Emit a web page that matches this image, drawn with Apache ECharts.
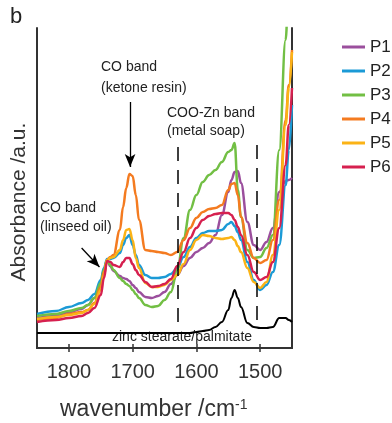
<!DOCTYPE html>
<html>
<head>
<meta charset="utf-8">
<script src="https://cdn.jsdelivr.net/npm/echarts@6/dist/echarts.min.js"></script>
<style>
  html, body { margin: 0; padding: 0; background: #fff; }
  #chart-container { width: 392px; height: 423px; }
</style>
</head>
<body>
<div id="chart-container"></div>
<script>
var dom = document.getElementById("chart-container");
var myChart = echarts.init(dom, null, { renderer: "canvas" });

const font = "Liberation Sans";

// shared wavenumber grid (cm-1), absorbance in arbitrary units
const wavenumber = [1850, 1820, 1800, 1780, 1770, 1760, 1750, 1745, 1740, 1735,
  1730, 1720, 1715, 1710, 1705, 1700, 1695, 1690, 1680, 1670,
  1660, 1650, 1640, 1630, 1620, 1610, 1600, 1590, 1580, 1570,
  1560, 1550, 1545, 1540, 1535, 1530, 1520, 1510, 1500, 1490,
  1480, 1470, 1460, 1455, 1450];

const p1 = [30, 32, 36, 39, 43, 50, 64, 78, 88, 82,
  77, 72, 70, 69, 67, 63, 60, 56, 51, 50,
  52, 56, 64, 73, 82, 90, 96, 100, 105, 113,
  133, 156, 168, 176, 177, 165, 126, 103, 98, 106,
  120, 156, 167, 168, 170];
const p2 = [34, 37, 41, 45, 48, 54, 68, 80, 89, 89,
  90, 95, 103, 110, 113, 103, 93, 83, 73, 70,
  70, 71, 74, 80, 91, 101, 110, 115, 117, 117,
  118, 124, 126, 122, 116, 108, 86, 68, 58, 63,
  76, 103, 163, 198, 243];
const p3 = [32, 34, 37, 40, 43, 50, 65, 78, 88, 83,
  78, 70, 67, 64, 62, 58, 54, 50, 43, 41,
  42, 48, 56, 78, 110, 138, 153, 166, 173, 178,
  186, 196, 198, 205, 158, 131, 98, 90, 91, 100,
  113, 198, 308, 370, 430];
const p4 = [28, 30, 34, 36, 38, 45, 61, 76, 88, 91,
  93, 118, 141, 160, 174, 172, 153, 128, 98, 97,
  96, 95, 93, 96, 108, 120, 130, 136, 139, 140,
  143, 158, 164, 165, 153, 131, 105, 90, 85, 88,
  108, 148, 228, 263, 298];
const p5 = [29, 31, 33, 35, 38, 44, 58, 73, 88, 90,
  91, 98, 108, 118, 119, 108, 90, 80, 65, 61,
  61, 63, 68, 73, 84, 98, 108, 113, 112, 110,
  109, 110, 111, 108, 102, 96, 80, 66, 60, 66,
  93, 138, 223, 260, 296];
const p6 = [26, 28, 30, 32, 35, 40, 53, 70, 87, 86,
  83, 81, 86, 90, 90, 84, 78, 73, 66, 61,
  62, 64, 69, 82, 96, 110, 120, 128, 132, 134,
  135, 135, 133, 128, 121, 113, 93, 76, 68, 71,
  86, 120, 183, 223, 260];
const zincSoap = [15, 15, 15, 15, 15, 15, 15, 15, 15, 15,
  15, 15, 15, 15, 15, 15, 15, 15, 15, 15,
  15, 15, 15, 15, 15, 15, 16, 17, 18, 21,
  26, 38, 50, 58, 50, 41, 25, 21, 20, 20,
  21, 30, 30, 28, 26];

const names = ["P1", "P2", "P3", "P4", "P5", "P6"];
const colors = ["#9b4f9d", "#1b9ad6", "#72bf44", "#f47b20", "#fbb316", "#d6204f"];
const tickValues = [1500, 1600, 1700, 1800];

function pairs(vals) {
  return wavenumber.map(function (w, i) { return [w, vals[i]]; });
}

var series = [p1, p2, p3, p4, p5, p6].map(function (vals, i) {
  return {
    name: names[i],
    type: "line",
    data: pairs(vals),
    smooth: 0.4,
    smoothMonotone: "x",
    showSymbol: false,
    clip: true,
    lineStyle: { width: 2.5, color: colors[i] },
    itemStyle: { color: colors[i] },
  };
});

series.push({
  name: "zinc",
  type: "line",
  data: pairs(zincSoap),
  smooth: 0.4,
  smoothMonotone: "x",
  showSymbol: false,
  lineStyle: { width: 2, color: "#000" },
  itemStyle: { color: "#000" },
  markLine: {
    silent: true,
    symbol: ["none", "none"],
    label: { show: false },
    lineStyle: { color: "#000", width: 1.5, type: [14, 9] },
    data: [
      [{ coord: [1630, 201] }, { coord: [1630, 26] }],
      [{ coord: [1505, 203] }, { coord: [1505, 28] }],
      [
        { coord: [1704, 246], lineStyle: { type: "solid", width: 1.3 } },
        { coord: [1704, 181], symbol: "arrow", symbolSize: [8, 13] },
      ],
      [
        { coord: [1780, 100], lineStyle: { type: "solid", width: 1.3 } },
        { coord: [1752, 81], symbol: "arrow", symbolSize: [8, 13] },
      ],
    ],
  },
});

function txt(x, y, text, size) {
  return {
    type: "text",
    x: x,
    y: y,
    style: {
      text: text,
      fontFamily: font,
      fontSize: size || 14,
      fill: "#222",
      verticalAlign: "middle",
    },
  };
}

var option = {
  animation: false,
  legend: {
    data: names,
    orient: "vertical",
    left: 342,
    top: 37,
    padding: 0,
    icon: "rect",
    itemWidth: 23,
    itemHeight: 3,
    itemGap: 4,
    textStyle: { fontFamily: font, fontSize: 17, lineHeight: 20, color: "#222" },
  },
  grid: { left: 37, right: 100, top: 28, bottom: 75 },
  xAxis: [
    {
      type: "value",
      inverse: true,
      min: 1450,
      max: 1850,
      position: "bottom",
      axisLine: { lineStyle: { color: "#333", width: 2 } },
      axisTick: { inside: true, length: 4, customValues: tickValues, lineStyle: { color: "#333", width: 1.5 } },
      axisLabel: {
        customValues: tickValues,
        margin: 14,
        fontFamily: font,
        fontSize: 20,
        color: "#333",
        formatter: function (v) { return String(v); },
      },
      splitLine: { show: false },
    },
    {
      type: "value",
      inverse: true,
      min: 1450,
      max: 1850,
      position: "top",
      axisLine: { lineStyle: { color: "#333", width: 2 } },
      axisTick: { inside: true, length: 4, customValues: tickValues, lineStyle: { color: "#333", width: 1.5 } },
      axisLabel: { show: false },
      splitLine: { show: false },
    },
  ],
  yAxis: [
    {
      type: "value",
      min: 0,
      max: 320,
      position: "left",
      axisLine: { show: true, lineStyle: { color: "#333", width: 2 } },
      axisTick: { show: false },
      axisLabel: { show: false },
      splitLine: { show: false },
    },
    {
      type: "value",
      min: 0,
      max: 320,
      position: "right",
      axisLine: { show: true, lineStyle: { color: "#333", width: 2 } },
      axisTick: { show: false },
      axisLabel: { show: false },
      splitLine: { show: false },
    },
  ],
  graphic: [
    txt(10, 17, "b", 22),
    txt(101, 67, "CO band"),
    txt(101, 88, "(ketone resin)"),
    txt(167, 113, "COO-Zn band"),
    txt(167, 131, "(metal soap)"),
    txt(40, 208, "CO band"),
    txt(40, 227, "(linseed oil)"),
    txt(112, 337, "zinc stearate/palmitate"),
    {
      type: "text",
      x: 19,
      y: 202,
      rotation: Math.PI / 2,
      style: {
        text: "Absorbance /a.u.",
        fontFamily: font,
        fontSize: 21,
        fill: "#333",
        align: "center",
        verticalAlign: "middle",
      },
    },
    {
      type: "text",
      x: 60,
      y: 410,
      style: {
        text: "{a|wavenumber /cm}{s|-1}",
        fontFamily: font,
        verticalAlign: "middle",
        rich: {
          a: { fontFamily: font, fontSize: 23, fill: "#333", verticalAlign: "bottom" },
          s: { fontFamily: font, fontSize: 14, fill: "#333", verticalAlign: "top" },
        },
      },
    },
  ],
  series: series,
};

myChart.setOption(option);
window.addEventListener("resize", myChart.resize);
</script>
</body>
</html>
